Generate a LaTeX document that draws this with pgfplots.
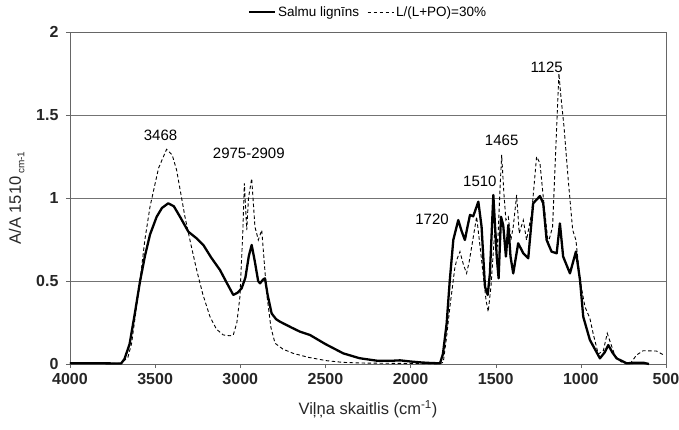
\documentclass[border=0pt]{standalone}
\usepackage{pgfplots}
\pgfplotsset{compat=1.18}
\usepackage{fontspec}
\setmainfont{Liberation Sans}

\pgfplotstableread{
wn a
4000 0.005
3800 0.004
3700 0.003
3680 0.03
3650 0.12
3620 0.3
3589 0.496
3560 0.65
3530 0.78
3491 0.887
3460 0.94
3423 0.968
3390 0.95
3350 0.88
3305 0.797
3260 0.76
3217 0.717
3170 0.64
3119 0.566
3080 0.49
3041 0.416
3015 0.43
2992 0.456
2970 0.52
2950 0.65
2933 0.717
2915 0.62
2895 0.50
2884 0.486
2865 0.51
2855 0.516
2840 0.42
2816 0.305
2790 0.27
2767 0.255
2700 0.22
2650 0.195
2591 0.175
2500 0.12
2395 0.064
2300 0.035
2199 0.02
2100 0.02
2062 0.022
2000 0.015
1945 0.01
1900 0.007
1827 0.004
1810 0.06
1788 0.245
1770 0.5
1749 0.747
1720 0.867
1700 0.80
1681 0.747
1665 0.83
1651 0.898
1632 0.89
1602 0.978
1583 0.827
1563 0.466
1547 0.416
1534 0.546
1514 1.018
1494 0.647
1483 0.516
1469 0.887
1456 0.837
1440 0.647
1426 0.837
1413 0.647
1397 0.546
1368 0.727
1338 0.667
1309 0.637
1280 0.968
1240 1.012
1221 0.968
1201 0.747
1172 0.677
1142 0.667
1123 0.847
1104 0.647
1064 0.546
1029 0.677
1005 0.506
986 0.285
947 0.145
888 0.034
860 0.07
839 0.114
815 0.07
790 0.034
731 0.004
680 0.008
634 0.008
600 0.0
}\lignin

\pgfplotstableread{
wn a
4000 0.005
3700 0.004
3660 0.04
3638 0.125
3589 0.5
3560 0.75
3530 0.948
3480 1.18
3433 1.293
3400 1.26
3374 1.169
3325 0.887
3290 0.72
3256 0.566
3220 0.42
3178 0.285
3140 0.21
3100 0.175
3060 0.17
3041 0.175
3020 0.25
3002 0.406
2985 0.8
2976 1.088
2962 0.807
2952 0.998
2933 1.118
2914 0.827
2894 0.747
2874 0.807
2845 0.426
2820 0.22
2796 0.125
2750 0.09
2689 0.064
2600 0.04
2493 0.02
2400 0.01
2297 0.006
2000 0.003
1830 0.002
1808 0.01
1790 0.15
1769 0.345
1740 0.58
1729 0.627
1710 0.677
1690 0.6
1671 0.546
1655 0.62
1641 0.707
1612 0.887
1583 0.627
1557 0.386
1544 0.315
1528 0.466
1504 0.827
1489 0.707
1475 1.048
1465 1.259
1452 1.028
1440 0.867
1426 0.887
1411 0.747
1397 0.827
1377 1.018
1362 0.787
1338 0.867
1319 0.747
1289 0.907
1260 1.249
1240 1.209
1221 1.008
1192 0.727
1166 0.827
1142 1.43
1129 1.75
1117 1.61
1099 1.43
1074 1.108
1048 0.807
1029 0.747
1005 0.506
976 0.345
947 0.275
927 0.18
898 0.06
868 0.08
845 0.185
800 0.05
760 0.01
712 0.0
690 0.03
673 0.054
634 0.08
556 0.078
506 0.05
}\mix

\begin{document}
\begin{tikzpicture}
\begin{axis}[
    width=596pt, height=332pt, scale only axis,
    xmin=500, xmax=4000, ymin=0, ymax=2,
    x dir=reverse,
    xtick={500,1000,...,4000},
    ytick={0,0.5,1,1.5,2},
    yticklabels={0,0.5,1,1.5,2},
    xticklabel style={/pgf/number format/1000 sep={}, yshift=-2pt},
    yticklabel style={xshift=-4pt},
    /pgf/number format/assume math mode=true,
    tick label style={font=\fontsize{16}{18}\selectfont\bfseries, text=black!85},
    tick align=outside, tick pos=left,
    major tick length=4pt,
    axis line style={black!60},
    every tick/.style={black!60},
    ymajorgrids, grid style={black!55, line width=0.7pt},
    xlabel={Viļņa skaitlis (cm\textsuperscript{-1})},
    ylabel={A/A 1510\,\raisebox{-0.4ex}{\fontsize{10}{11}\selectfont cm-1}},
    label style={font=\fontsize{16.5}{18}\selectfont, text=black!85},
    xlabel style={yshift=-9pt},
    ylabel style={yshift=5pt},
    legend style={at={(0.5,1.03)}, anchor=south, draw=none, fill=none,
        font=\fontsize{13.5}{15}\selectfont, legend columns=2,
        /tikz/every even column/.append style={column sep=6pt}},
    legend image code/.code={\draw[#1] (0pt,0pt) -- (26pt,0pt);},
    clip=false,
]
\addplot[black, line width=2.3pt, line join=round] table[x=wn, y=a] {\lignin};
\addlegendentry{Salmu lignīns}
\addplot[black, line width=0.9pt, dash pattern=on 3.5pt off 2.5pt] table[x=wn, y=a] {\mix};
\addlegendentry{L/(L+PO)=30\%}
\node[font=\fontsize{15}{17}\selectfont] at (axis cs:3468,1.38) {3468};
\node[font=\fontsize{15}{17}\selectfont] at (axis cs:2950,1.27) {2975-2909};
\node[font=\fontsize{15}{17}\selectfont] at (axis cs:1874,0.87) {1720};
\node[font=\fontsize{15}{17}\selectfont] at (axis cs:1593,1.10) {1510};
\node[font=\fontsize{15}{17}\selectfont] at (axis cs:1465,1.35) {1465};
\node[font=\fontsize{15}{17}\selectfont] at (axis cs:1201,1.79) {1125};
\end{axis}
\pgfresetboundingbox
\path ([xshift=-70pt,yshift=-66pt]current axis.south west) rectangle ([xshift=13pt,yshift=32pt]current axis.north east);
\end{tikzpicture}
\end{document}
